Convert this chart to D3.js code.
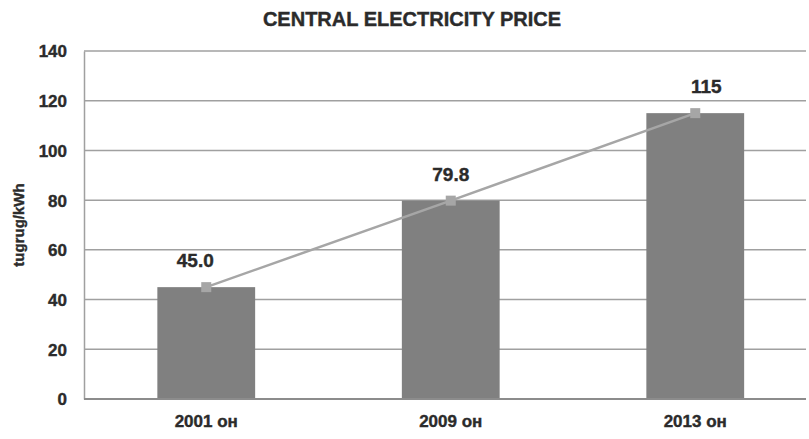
<!DOCTYPE html>
<html>
<head>
<meta charset="utf-8">
<script src="https://cdn.jsdelivr.net/npm/d3@7"></script>
<style>
  html, body { margin: 0; padding: 0; background: #fff; }
  svg text { font-family: "Liberation Sans", Arial, sans-serif; font-weight: bold; fill: #2b2b2b; stroke: #2b2b2b; stroke-width: 0.4px; }
</style>
</head>
<body>
<svg id="chart" width="809" height="439"></svg>
<script>
// Central electricity price, tugrug per kWh
const categories = ["2001 он", "2009 он", "2013 он"];
const prices = [45.0, 79.8, 115];
const priceLabels = ["45.0", "79.8", "115"];
const yTicks = [0, 20, 40, 60, 80, 100, 120, 140];

const width = 809, height = 439;
const margin = { left: 84, right: 3, top: 51, bottom: 40 };
const plotRight = width - margin.right;

const svg = d3.select("#chart");

const x = d3.scaleBand()
  .domain(categories)
  .range([margin.left, margin.left + 733.5])
  .paddingInner(0.6)
  .paddingOuter(0.3);

const y = d3.scaleLinear()
  .domain([0, 140])
  .range([height - margin.bottom, margin.top]);

// horizontal gridlines
svg.append("g")
  .selectAll("line")
  .data(yTicks.filter(d => d > 0))
  .join("line")
  .attr("x1", margin.left)
  .attr("x2", plotRight)
  .attr("y1", d => y(d))
  .attr("y2", d => y(d))
  .attr("stroke", "#a0a0a0")
  .attr("stroke-width", 1.5);

// y axis
const yAxis = svg.append("g")
  .attr("transform", `translate(${margin.left},0)`)
  .call(d3.axisLeft(y).tickValues(yTicks).tickSize(0).tickPadding(17));
yAxis.select(".domain").attr("stroke", "#a0a0a0").attr("stroke-width", 1.5);
yAxis.selectAll("text").style("font-size", "17px").attr("dy", "0.35em");

// bars
svg.append("g")
  .selectAll("rect")
  .data(prices)
  .join("rect")
  .attr("x", (d, i) => x(categories[i]))
  .attr("width", x.bandwidth())
  .attr("y", d => y(d))
  .attr("height", d => y(0) - y(d))
  .attr("fill", "#808080");

// baseline
svg.append("line")
  .attr("x1", margin.left)
  .attr("x2", plotRight)
  .attr("y1", y(0))
  .attr("y2", y(0))
  .attr("stroke", "#8c8c8c")
  .attr("stroke-width", 2);

// x axis labels
const xAxis = svg.append("g")
  .attr("transform", `translate(0,${y(0)})`)
  .call(d3.axisBottom(x).tickSize(0).tickPadding(16));
xAxis.select(".domain").remove();
xAxis.selectAll("text").style("font-size", "17px");

// trend line with square markers
const cx = i => x(categories[i]) + x.bandwidth() / 2;
svg.append("path")
  .datum(prices)
  .attr("d", d3.line().x((d, i) => cx(i)).y(d => y(d)))
  .attr("fill", "none")
  .attr("stroke", "#a6a6a6")
  .attr("stroke-width", 2.5);

svg.append("g")
  .selectAll("rect")
  .data(prices)
  .join("rect")
  .attr("x", (d, i) => cx(i) - 5)
  .attr("y", d => y(d) - 5)
  .attr("width", 10)
  .attr("height", 10)
  .attr("fill", "#a6a6a6");

// value labels
const labelNudge = [-11, 0, 11];
svg.append("g")
  .selectAll("text")
  .data(prices)
  .join("text")
  .attr("x", (d, i) => cx(i) + labelNudge[i])
  .attr("y", d => y(d) - 20)
  .attr("text-anchor", "middle")
  .style("font-size", "19px")
  .text((d, i) => priceLabels[i]);

// title
svg.append("text")
  .attr("x", 412)
  .attr("y", 26)
  .attr("text-anchor", "middle")
  .style("font-size", "20px")
  .text("CENTRAL ELECTRICITY PRICE");

// y axis title
svg.append("text")
  .attr("transform", `translate(24,${(y(0) + y(140)) / 2}) rotate(-90)`)
  .attr("text-anchor", "middle")
  .style("font-size", "15px")
  .text("tugrug/kWh");
</script>
</body>
</html>
